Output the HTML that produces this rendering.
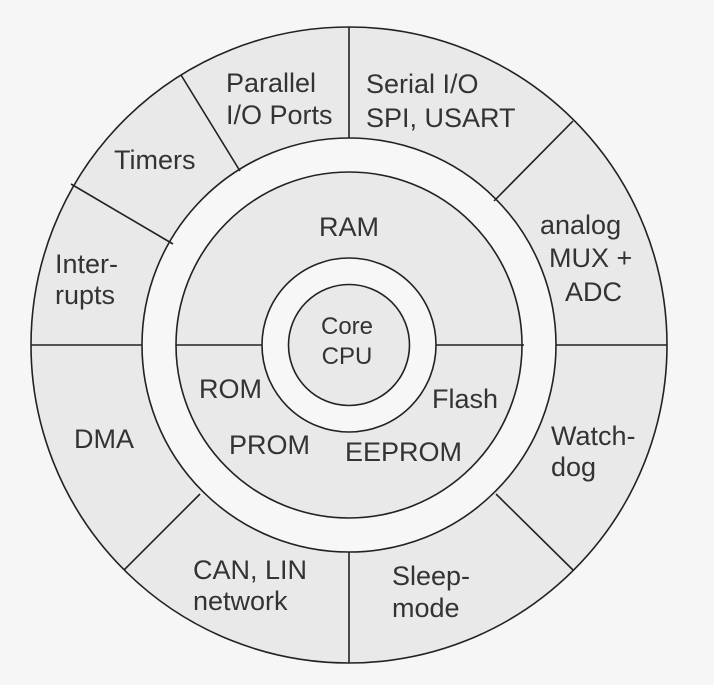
<!DOCTYPE html>
<html><head><meta charset="utf-8"><style>
html,body{margin:0;padding:0;background:#f6f6f6;}
svg{display:block}
text{font-family:"Liberation Sans",Arial,sans-serif;font-size:27px;fill:#333;}
</style></head><body>
<svg width="714" height="685" viewBox="0 0 714 685">
<rect width="714" height="685" fill="#f6f6f6"/>
<g stroke="#222" stroke-width="1.6">
<circle cx="349" cy="345" r="318" fill="#e9e9e9"/>
<circle cx="349" cy="345" r="207" fill="#f7f7f7"/>
<circle cx="349" cy="345" r="173" fill="#e9e9e9"/>
<circle cx="349" cy="345" r="87" fill="#f7f7f7"/>
<circle cx="349" cy="345" r="60.5" fill="#e9e9e9"/>
<line x1="349" y1="27" x2="349" y2="138"/>
<line x1="349" y1="552" x2="349" y2="663"/>
<line x1="31" y1="345" x2="142" y2="345"/>
<line x1="556" y1="345" x2="667" y2="345"/>
<line x1="176" y1="345" x2="262" y2="345"/>
<line x1="436" y1="345" x2="524" y2="345"/>
<line x1="181" y1="75" x2="240" y2="171"/>
<line x1="71" y1="184" x2="173" y2="244"/>
<line x1="573" y1="121" x2="494" y2="201"/>
<line x1="496" y1="494" x2="573" y2="570"/>
<line x1="200" y1="494" x2="124" y2="570"/>
</g>
<text x="226" y="92">Parallel</text>
<text x="226" y="124">I/O Ports</text>
<text x="366" y="93">Serial I/O</text>
<text x="366" y="127">SPI, USART</text>
<text x="114" y="169">Timers</text>
<text x="55" y="273">Inter-</text>
<text x="55" y="304">rupts</text>
<text x="349" y="236" text-anchor="middle">RAM</text>
<text x="540" y="234">analog</text>
<text x="549" y="267">MUX +</text>
<text x="565" y="301">ADC</text>
<text x="347" y="334" text-anchor="middle" style="font-size:24px">Core</text>
<text x="347" y="364" text-anchor="middle" style="font-size:24px">CPU</text>
<text x="199" y="398">ROM</text>
<text x="432" y="408">Flash</text>
<text x="74" y="448">DMA</text>
<text x="229" y="454">PROM</text>
<text x="345" y="461">EEPROM</text>
<text x="551" y="445">Watch-</text>
<text x="551" y="476">dog</text>
<text x="193" y="579">CAN, LIN</text>
<text x="193" y="610">network</text>
<text x="392" y="585">Sleep-</text>
<text x="392" y="617">mode</text>
</svg>
</body></html>
